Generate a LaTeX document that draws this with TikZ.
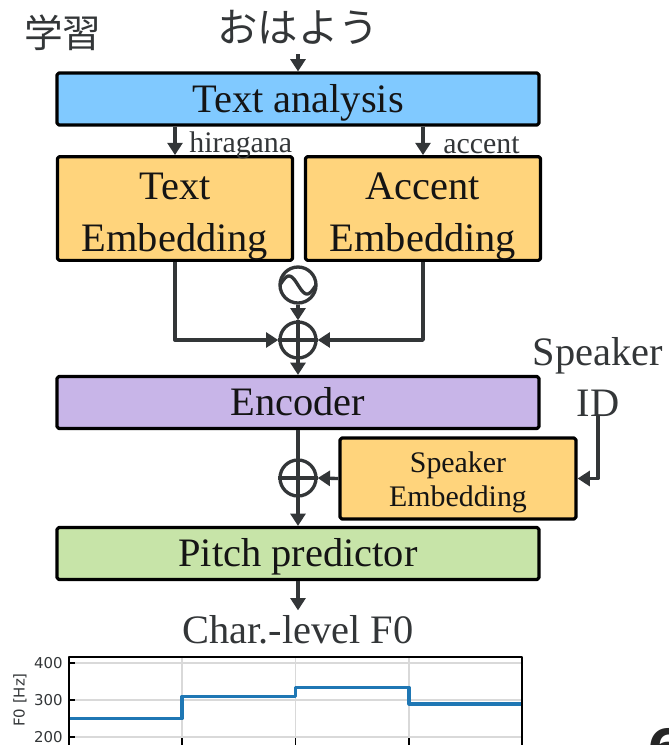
\documentclass[tikz,border=0pt]{standalone}
\usepackage{fontspec}
\setmainfont{Liberation Serif}
\newfontfamily\jpfont{Noto Sans CJK JP}
\newfontfamily\plotfont{DejaVu Sans}
\usetikzlibrary{arrows.meta,positioning}

\definecolor{linegray}{HTML}{333638}
\definecolor{analysisblue}{HTML}{80C9FF}
\definecolor{embyellow}{HTML}{FFD47C}
\definecolor{encpurple}{HTML}{C8B5E8}
\definecolor{pitchgreen}{HTML}{C7E4A8}
\definecolor{mplblue}{HTML}{1F77B4}

% box text, lowered a little without changing its size
\newcommand{\boxtext}[2][0.06cm]{\raisebox{-#1}[\height][\depth]{\begin{tabular}{@{}c@{}}#2\end{tabular}}}

\begin{document}
\begin{tikzpicture}[
		x=0.02cm, y=-0.02cm,
		line join=round,
		>={Triangle[width=8.5pt,length=7pt]},
		box/.style={draw=black, line width=1.8pt, rounded corners=1pt, text=black!92, font=\fontsize{23}{29.5}\selectfont, inner sep=0pt},
		widebox/.style={box, minimum width=9.64cm, minimum height=1.04cm},
		embbox/.style={box, fill=embyellow, minimum width=4.7cm, minimum height=2.06cm},
		flow/.style={draw=linegray, line width=1.9pt},
		lab/.style={text=linegray, font=\fontsize{23}{28.5}\selectfont, inner sep=0pt, align=center},
		smalllab/.style={text=linegray, font=\fontsize{17}{19}\selectfont, inner sep=0pt},
		opcirc/.style={circle, draw=linegray, line width=1.9pt, minimum size=0.72cm, inner sep=0pt},
		grid/.style={gray!30, line width=0.8pt},
		ticklab/.style={text=linegray, font=\plotfont\fontsize{8.5}{9}\selectfont, inner sep=0pt}
	]
	\useasboundingbox (0,0) rectangle (669,745);
	
	% Parameters of the F0 plot
	\def\pl{69}
	\def\pr{522}
	\def\pt{657}
	\def\pb{760}
	
	% Input text
	\node[text=linegray, font=\jpfont\fontsize{22}{25}\selectfont, inner sep=0pt, anchor=east] (title) at (102,33) {学習};
	\node[text=linegray, font=\jpfont\fontsize{23}{25}\selectfont, inner sep=0pt] (ohayo) at (298,27) {おはよう};
	
	% Blocks
	\node[widebox, fill=analysisblue] (analysis) at (298,99) {\boxtext{Text analysis}};
	\node[embbox] (textemb) at (175,208.5) {\boxtext[0.14cm]{Text\\Embedding}};
	\node[embbox] (accentemb) at (423,208.5) {\boxtext[0.14cm]{Accent\\Embedding}};
	\node[opcirc] (sine) at (298,285) {};
	\node[opcirc] (add1) at (298,340) {};
	\node[widebox, fill=encpurple] (encoder) at (298,402.5) {\boxtext{Encoder}};
	\node[lab] (spkid) at (598,377) {Speaker\\ID};
	\node[box, fill=embyellow, minimum width=4.72cm, minimum height=1.62cm, font=\fontsize{17}{19.5}\selectfont] (spkemb) at (458,478.5) {\boxtext[0.08cm]{Speaker\\Embedding}};
	\node[opcirc] (add2) at (298,478) {};
	\node[widebox, fill=pitchgreen] (pitch) at (298,553.5) {\boxtext{Pitch predictor}};
	\node[lab] (f0lab) at (298,630) {Char.-level F0};
	
	% Operator symbols
	\draw[linegray, line width=1.9pt, shift={(sine.center)}] plot[domain=-18:18, samples=40, smooth] (\x, {9*sin(\x*10)});
	\draw[linegray, line width=1.9pt] (add1.north) -- (add1.south) (add1.west) -- (add1.east);
	\draw[linegray, line width=1.9pt] (add2.north) -- (add2.south) (add2.west) -- (add2.east);
	
	% Connections
	\draw[flow, ->] ([yshift=-0.2cm]ohayo.south) -- (analysis.north);
	\draw[flow, ->] (analysis.south -| textemb) -- (textemb.north);
	\draw[flow, ->] (analysis.south -| accentemb) -- (accentemb.north);
	\node[smalllab, anchor=west] (hira) at (189,145) {hiragana};
	\node[smalllab, anchor=west] (acc) at (443,145) {accent};
	\draw[flow, ->] (textemb.south) |- (add1.west);
	\draw[flow, ->] (accentemb.south) |- (add1.east);
	\draw[flow, ->] (sine) -- (add1);
	\draw[flow, ->] (add1) -- (encoder);
	\draw[flow] (encoder.south) -- (add2.north);
	\draw[flow, ->] (spkid.south) |- (spkemb.east);
	\draw[flow, ->] (spkemb.west) -- (add2.east);
	\draw[flow, ->] (add2) -- (pitch);
	\draw[flow, ->] (pitch.south) -- ([yshift=0.1cm]f0lab.north);
	
	% F0 plot
	\foreach \v/\yy in {400/663,300/700,200/737} {
		\draw[grid] (\pl,\yy) -- (\pr,\yy);
		\draw[black, line width=0.8pt] (\pl,\yy) -- (\pl+6,\yy);
		\node[ticklab, anchor=east] at (\pl-6,\yy) {\v};
	}
	\foreach \xx in {182,295.5,409} {
		\draw[grid] (\xx,\pt) -- (\xx,\pb);
		\draw[black, line width=0.8pt] (\xx,745) -- (\xx,738);
	}
	\draw[mplblue, line width=1.8pt] (\pl,718.5) -- (182,718.5) -- (182,696.5) -- (295.5,696.5) -- (295.5,687.5) -- (409,687.5) -- (409,704) -- (\pr,704);
	\draw[black, line width=0.9pt] (\pl,\pt) rectangle (\pr,\pb);
	\node[ticklab, rotate=90] (f0axis) at (20,700) {F0 [Hz]};
	
	% Page number
	\node[font=\plotfont\bfseries\fontsize{30}{30}\selectfont, text=black!85, inner sep=0pt, anchor=north west] (pagenum) at (647,728) {6};
	
\end{tikzpicture}
\end{document}
